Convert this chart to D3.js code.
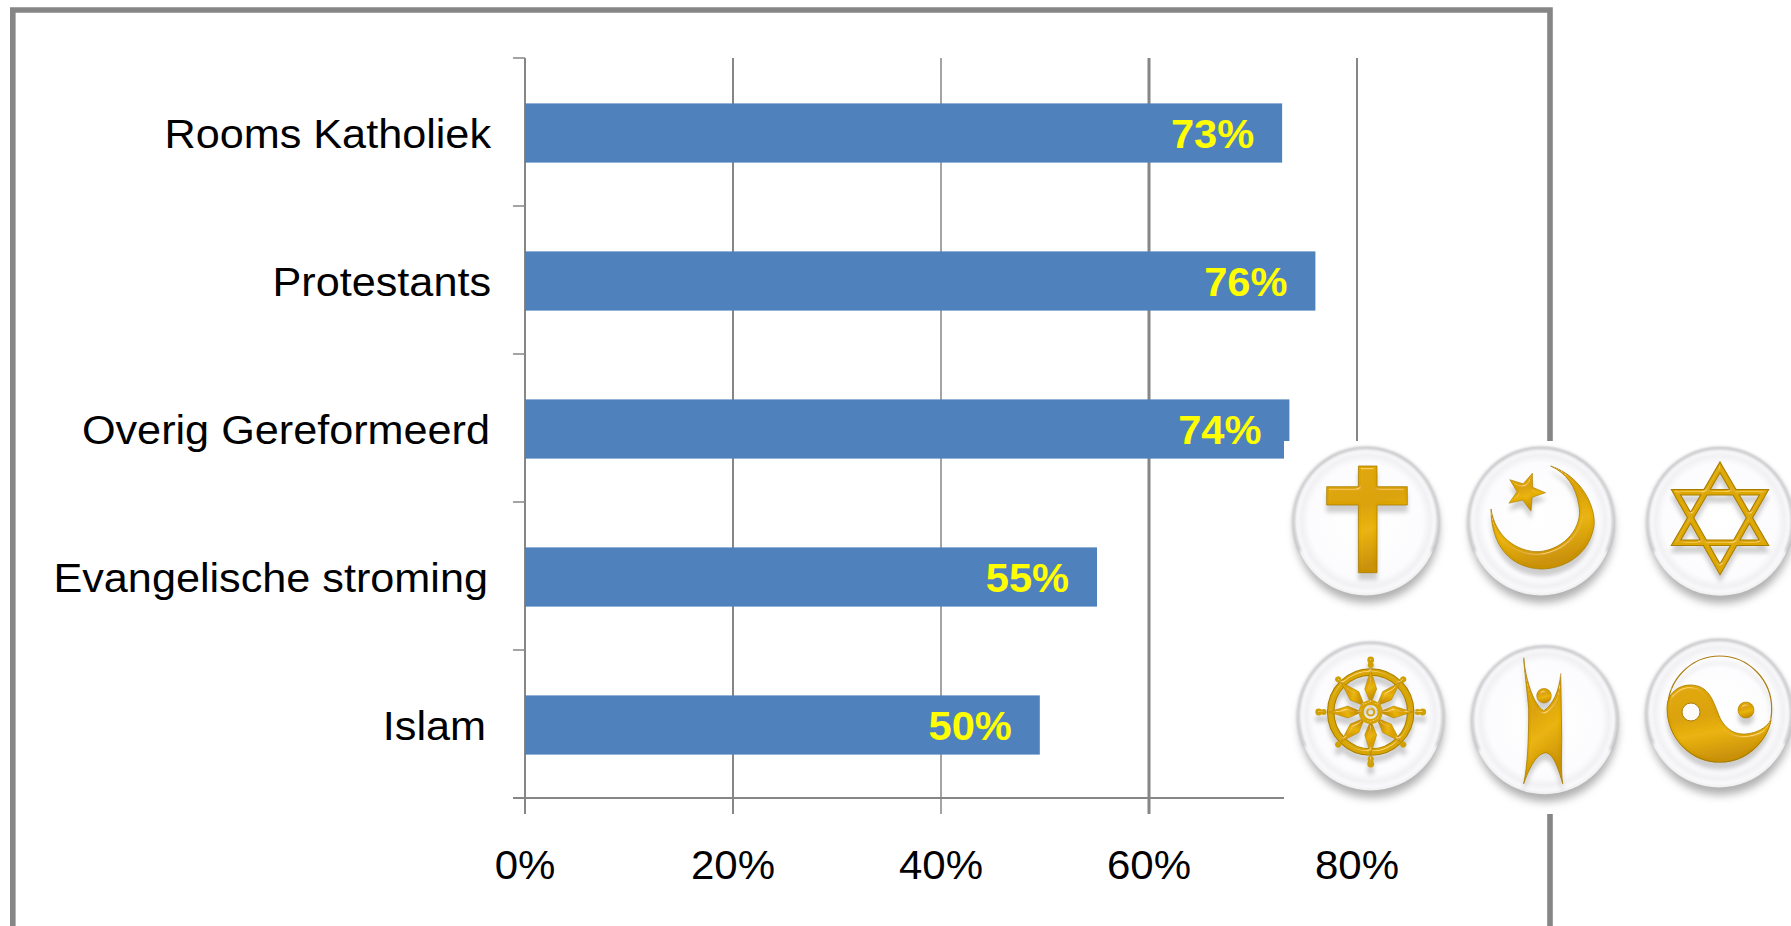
<!DOCTYPE html>
<html><head><meta charset="utf-8">
<script src="https://cdn.jsdelivr.net/npm/d3@7"></script>
<style>html,body{margin:0;padding:0;background:#fff;overflow:hidden}svg{display:block}text{font-family:"Liberation Sans",Arial,sans-serif}</style>
</head><body><svg id="c" width="1791" height="926"></svg>
<script>
const categories = ["Rooms Katholiek","Protestants","Overig Gereformeerd","Evangelische stroming","Islam"];
const barValues = [72.8,76,73.5,55,49.5];
const valueLabels = ["73%","76%","74%","55%","50%"];
const tickValues = [0,20,40,60,80];
const gridWidths = [2,2,1.5,3,2];
const labelShift = [0,0,-1,-3,-5];

const grey="#868686", blue="#4F81BD";
const svg=d3.select("#c");
const defs=svg.append("defs");

const x=d3.scaleLinear().domain([0,80]).range([525,1357]);
const y=d3.scaleBand().domain(categories).range([59,799]).paddingInner(0.6).paddingOuter(0.3);
const yB=d3.scaleLinear().domain([0,categories.length]).range([58,798]);

// outer frame
svg.append("path").attr("d","M12.8,926V10H1550V926").attr("fill","none").attr("stroke",grey).attr("stroke-width",5.6);

// gridlines
svg.append("g").selectAll("line").data(tickValues).join("line")
 .attr("x1",d=>x(d)).attr("x2",d=>x(d)).attr("y1",yB(0)).attr("y2",814)
 .attr("stroke",grey).attr("stroke-width",(d,i)=>gridWidths[i]);
// category boundary ticks
svg.append("g").selectAll("line").data(d3.range(categories.length+1)).join("line")
 .attr("x1",513).attr("x2",525)
 .attr("y1",d=>yB(d)).attr("y2",d=>yB(d)).attr("stroke",grey).attr("stroke-width",1.5);
// horizontal axis line
svg.append("line").attr("x1",513).attr("x2",1284).attr("y1",yB(5)).attr("y2",yB(5)).attr("stroke",grey).attr("stroke-width",2);

// bars
svg.append("g").selectAll("rect").data(categories).join("rect")
 .attr("x",x(0)).attr("y",d=>y(d)).attr("height",y.bandwidth())
 .attr("width",(d,i)=>x(barValues[i])-x(0)).attr("fill",blue);

// value labels
svg.append("g").selectAll("text").data(categories).join("text")
 .attr("transform",(d,i)=>`translate(${x(barValues[i])-28},${y(d)+y.bandwidth()/2+15}) scale(1.04,1)`)
 .attr("text-anchor","end").attr("font-size",40).attr("font-weight","bold").attr("fill","#FFFF00")
 .text((d,i)=>valueLabels[i]);

// category labels
svg.append("g").selectAll("text").data(categories).join("text")
 .attr("transform",(d,i)=>`translate(${491+labelShift[i]},${y(d)+y.bandwidth()/2+14.5}) scale(1.08,1)`)
 .attr("text-anchor","end").attr("font-size",40).attr("fill","#000").text(d=>d);

// bottom tick labels
svg.append("g").selectAll("text").data(tickValues).join("text")
 .attr("transform",d=>`translate(${x(d)},879) scale(1.05,1)`)
 .attr("text-anchor","middle").attr("font-size",40).attr("fill","#000").text(d=>d+"%");

// ---- icon panel overlay ----
svg.append("rect").attr("x",1284).attr("y",441).attr("width",507).attr("height",373).attr("fill","#fff");

const blur=(id,s)=>defs.append("filter").attr("id",id).attr("x","-30%").attr("y","-30%").attr("width","160%").attr("height","160%")
  .append("feGaussianBlur").attr("stdDeviation",s);
blur("b5",4); blur("b2",2.2); blur("b1",1.4);

// glossy bevel for the gold symbols
const bv=defs.append("filter").attr("id","bevel").attr("x","-15%").attr("y","-15%").attr("width","130%").attr("height","130%");
bv.append("feGaussianBlur").attr("in","SourceAlpha").attr("stdDeviation",1.6).attr("result","a");
const sp=bv.append("feSpecularLighting").attr("in","a").attr("surfaceScale",3).attr("specularConstant",.6)
  .attr("specularExponent",70).attr("lighting-color","#fff3b0").attr("result","s");
sp.append("feDistantLight").attr("azimuth",250).attr("elevation",55);
bv.append("feComposite").attr("in","s").attr("in2","SourceAlpha").attr("operator","in").attr("result","s2");
bv.append("feComposite").attr("in","SourceGraphic").attr("in2","s2").attr("operator","arithmetic")
  .attr("k1",0).attr("k2",1).attr("k3",.6).attr("k4",0).attr("result","lit");
bv.append("feGaussianBlur").attr("in","lit").attr("stdDeviation",.45);

const rg=defs.append("radialGradient").attr("id","disc").attr("cx","50%").attr("cy","50%").attr("r","50%");
[[0,"#ffffff"],[0.78,"#fcfcfe"],[0.88,"#f1f1f4"],[0.95,"#f9f9fb"],[1,"#eeeeef"]].forEach(([o,c])=>rg.append("stop").attr("offset",o).attr("stop-color",c));
const gold=defs.append("linearGradient").attr("id","gold").attr("x1","0").attr("y1","0").attr("x2","0.25").attr("y2","1");
[[0,"#e0a800"],[0.45,"#d9a000"],[0.68,"#e8b204"],[1,"#c99000"]].forEach(([o,c])=>gold.append("stop").attr("offset",o).attr("stop-color",c));

function star5(cx,cy,R,r,rot){
  const p=[];for(let i=0;i<10;i++){const a=rot+i*Math.PI/5,q=i%2?r:R;p.push([cx+q*Math.sin(a),cy-q*Math.cos(a)]);}
  return "M"+p.map(d=>d.map(v=>v.toFixed(1)).join(",")).join("L")+"Z";
}
const G="url(#gold)", E="#a97c00";
const davidUp="M0,-54L44,21.5H-44Z", davidDown="M0,48L44,-29H-44Z";
const icons=[
 {c:[1366,521],draw(g){
   g.append("path").attr("d","M-7.6,-55H11V-34.3H41.3V-16H11V51.7H-7.6V-16H-39.3V-34.3H-7.6Z").attr("fill",G).attr("stroke",E).attr("stroke-width",.8);
 }},
 {c:[1541,521],draw(g){
   g.append("path").attr("d","M9.7,-55C40,-45 55,-15 53,5C48,35 22,48 0,48C-30,47 -50,25 -50,-12C-46,15 -25,31 -2,30.7C25,28 42,5 38,-15C35,-35 25,-48 9.7,-55Z").attr("fill",G).attr("stroke",E).attr("stroke-width",.8);
   g.append("path").attr("d",star5(-15.5,-29,20,8.5,0.35)).attr("fill",G).attr("stroke",E).attr("stroke-width",.6);
 }},
 {c:[1720,521.3],draw(g){
   g.append("path").attr("d",davidUp+davidDown).attr("fill","none").attr("stroke",E).attr("stroke-width",6.5);
   g.append("path").attr("d",davidUp+davidDown).attr("fill","none").attr("stroke","#dca804").attr("stroke-width",4.4);
 }},
 {c:[1370.7,716],draw(g){
   const w=g.append("g").attr("transform","translate(0,-4)");
   w.append("circle").attr("r",40).attr("fill","none").attr("stroke",E).attr("stroke-width",7.5);
   w.append("circle").attr("r",40).attr("fill","none").attr("stroke","#d8a606").attr("stroke-width",5.5);
   w.append("circle").attr("r",9.5).attr("fill","none").attr("stroke","#d6a206").attr("stroke-width",5);
   w.append("circle").attr("r",3.5).attr("fill","none").attr("stroke","#d6a206").attr("stroke-width",2);
   d3.range(8).forEach(i=>{
     const s=w.append("g").attr("transform",`rotate(${i*45})`);
     s.append("path").attr("d","M-1.5,-12L-6,-23L0,-42L6,-23L1.5,-12Z").attr("fill",G).attr("stroke",E).attr("stroke-width",.5);
     s.append("circle").attr("cy",i%2?-46:-47).attr("r",3).attr("fill","#d0a000");
     if(i%2===0){ s.append("circle").attr("cy",-52).attr("r",3.4).attr("fill","#d0a000");}
   });
 }},
 {c:[1544.7,719.7],draw(g){
   g.append("path").attr("d","M-21,-62C-20,-45 -12,-15 -1,-9C8,-14 15,-30 16,-46L17,15C17,35 16,52 18,64C14,50 9,34 1,33C-9,34 -16,50 -21,64C-17,45 -16,20 -16,-10C-17,-25 -20,-45 -21,-62Z").attr("fill",G).attr("stroke",E).attr("stroke-width",.8);
   g.append("circle").attr("cx",-.7).attr("cy",-24).attr("r",7.3).attr("fill",G).attr("stroke",E).attr("stroke-width",.6);
 }},
 {c:[1719,713],draw(g){
   g.append("ellipse").attr("cx",.7).attr("cy",-4).attr("rx",52).attr("ry",53).attr("fill","none").attr("stroke",E).attr("stroke-width",1.2);
   g.append("path").attr("d","M-52,-5C-52,-20 -40,-28 -29,-28C-10,-28 -6,-12 -1,0C4,15 15,22 27,21C38,20 47,15 52,7C48,30 25,49 1,49C-28,49 -52,25 -52,-5Z").attr("fill",G).attr("stroke",E).attr("stroke-width",.8);
   g.append("circle").attr("cx",-28).attr("cy",-1).attr("r",9).attr("fill","#fbfbfb").attr("stroke",E).attr("stroke-width",1);
   g.append("circle").attr("cx",27).attr("cy",-3).attr("r",8).attr("fill",G).attr("stroke",E).attr("stroke-width",.6);
 }}
];
const iconG=svg.append("g").selectAll("g").data(icons).join("g").attr("transform",d=>`translate(${d.c[0]},${d.c[1]})`);
iconG.append("ellipse").attr("cx",1).attr("cy",8).attr("rx",72).attr("ry",74).attr("fill","#9c9c9c").attr("filter","url(#b5)").attr("opacity",.8);
iconG.append("ellipse").attr("rx",73).attr("ry",74.5).attr("fill","url(#disc)");
iconG.append("path").attr("d",d3.arc()({innerRadius:71.5,outerRadius:73.5,startAngle:-2.0,endAngle:2.0}))
  .attr("transform","scale(1,1.01)").attr("fill","#b4b4b8").attr("filter","url(#b1)");
iconG.each(function(d){
  const g=d3.select(this);
  const sh=g.append("g").attr("transform","translate(0,7)").attr("opacity",.35).attr("filter","url(#b2)");
  d.draw(sh);
  sh.selectAll("*").filter(function(){return this.tagName!=="g"}).attr("fill",function(){return d3.select(this).attr("fill")==="none"?"none":"#777"}).attr("stroke","#777");
  d.draw(g.append("g").attr("filter","url(#bevel)"));
});
</script></body></html>
